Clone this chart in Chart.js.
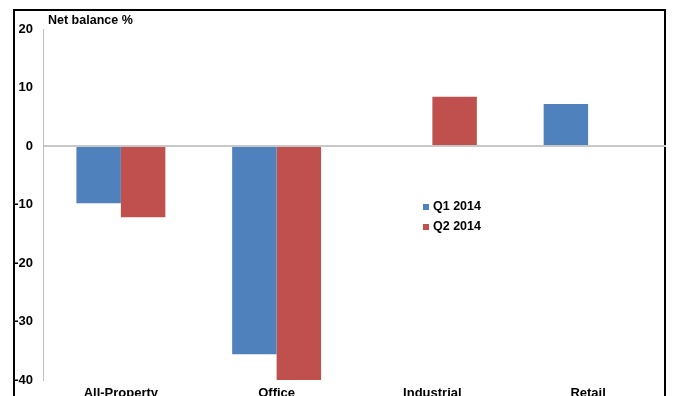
<!DOCTYPE html>
<html>
<head>
<meta charset="utf-8">
<script src="https://cdn.jsdelivr.net/npm/chart.js@4"></script>
<style>
  html, body { margin: 0; padding: 0; background: #fff; }
  #wrap { width: 674px; height: 396px; position: relative; }
</style>
</head>
<body>
<div id="wrap"><canvas id="chart" width="674" height="396"></canvas></div>
<script>
// Chart data
const categories = ['All-Property', 'Office', 'Industrial', 'Retail'];
const q1Values = [-9.8, -35.6, 0, 7.2];
const q2Values = [-12.2, -40, 8.4, 0];
const seriesLabels = ['Q1 2014', 'Q2 2014'];
const seriesColors = ['#4f81bd', '#c0504d'];
const yTicks = [20, 10, 0, -10, -20, -30, -40];

const FONT = 'Arial, "Liberation Sans", sans-serif';

// Black frame, axis title and the little legend in the middle
const decorations = {
  id: 'decorations',
  beforeDraw(chart) {
    const ctx = chart.ctx;
    ctx.save();
    ctx.strokeStyle = '#000';
    ctx.lineWidth = 2;
    ctx.beginPath();
    ctx.moveTo(14, 400);
    ctx.lineTo(14, 10);
    ctx.lineTo(665, 10);
    ctx.lineTo(665, 400);
    ctx.stroke();
    ctx.restore();
  },
  afterDraw(chart) {
    const ctx = chart.ctx;
    ctx.save();
    ctx.fillStyle = '#000';
    ctx.font = 'bold 12.5px ' + FONT;
    ctx.textBaseline = 'middle';
    ctx.textAlign = 'left';
    ctx.fillText('Net balance %', 48, 21);

    chart.data.datasets.forEach((ds, i) => {
      const y = 207 + i * 20;
      ctx.fillStyle = ds.backgroundColor;
      ctx.fillRect(423, y - 3, 6, 6);
      ctx.fillStyle = '#000';
      ctx.font = 'bold 12.5px ' + FONT;
      ctx.fillText(ds.label, 433, y);
    });
    ctx.restore();
  }
};

new Chart(document.getElementById('chart'), {
  type: 'bar',
  data: {
    labels: categories,
    datasets: [
      { label: seriesLabels[0], data: q1Values, backgroundColor: seriesColors[0] },
      { label: seriesLabels[1], data: q2Values, backgroundColor: seriesColors[1] }
    ]
  },
  options: {
    responsive: false,
    animation: false,
    events: [],
    layout: { padding: { top: 29, right: 8, left: 0, bottom: 0 } },
    datasets: {
      bar: { categoryPercentage: 0.571, barPercentage: 1.0, borderWidth: 0 }
    },
    plugins: {
      legend: { display: false },
      tooltip: { enabled: false }
    },
    scales: {
      x: {
        grid: { display: false, drawTicks: false },
        border: { display: false },
        ticks: {
          color: '#000',
          padding: 6,
          font: { family: FONT, size: 13, weight: 'bold' }
        },
        afterFit(scale) { scale.height = 16; }
      },
      y: {
        min: -40,
        max: 20,
        afterBuildTicks(scale) { scale.ticks = yTicks.map(v => ({ value: v })); },
        grid: {
          drawTicks: false,
          color: ctx => (ctx.tick && ctx.tick.value === 0 ? '#c8c8c8' : 'rgba(0,0,0,0)'),
          lineWidth: 2
        },
        border: { display: true, color: '#bfbfbf', width: 1 },
        ticks: {
          color: '#000',
          padding: 10,
          font: { family: FONT, size: 13, weight: 'bold' }
        },
        afterFit(scale) {
          scale.width = 43;
          scale.paddingTop = 0;
          scale.paddingBottom = 0;
        }
      }
    }
  },
  plugins: [decorations]
});
</script>
</body>
</html>
